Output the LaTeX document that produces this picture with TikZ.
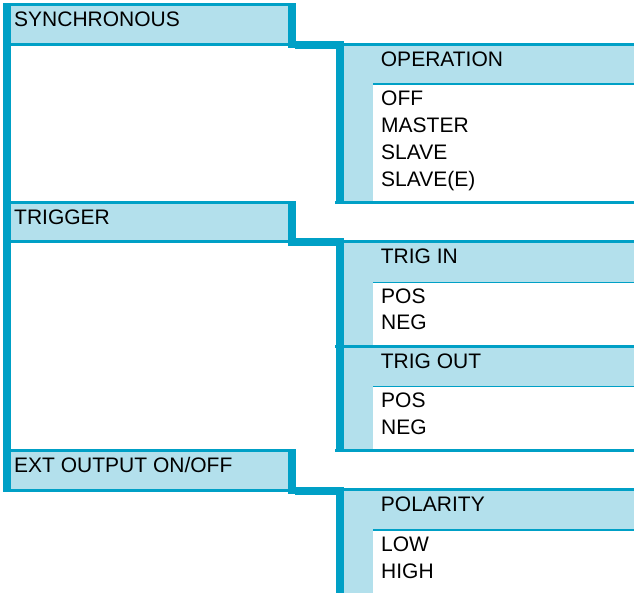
\documentclass[tikz,border=0pt]{standalone}
\usepackage{fontspec}
\setmainfont{Liberation Sans}
\definecolor{dk}{HTML}{00A0C6}
\definecolor{lt}{HTML}{B3E0EC}
\tikzset{
  lbl/.style={inner sep=0pt, anchor=base west, font=\fontsize{21}{26}\selectfont, text=black},
  dkfill/.style={fill=dk, draw=none},
  ltfill/.style={fill=lt, draw=none}
}
\begin{document}
\begin{tikzpicture}[x=1pt,y=-1pt]
\useasboundingbox (0,0) rectangle (634,593);
% ---------- left column ----------
\fill[dk] (2.7,3.3) rectangle (10.7,490.7);
\foreach \T in {3.3,201,449.3}{
  \fill[lt] (10.7,\T) rectangle (288,\T+42.4);
  \fill[dk] (10.7,\T) rectangle (288,\T+2.7);
  \fill[dk] (2.7,\T+39.4) rectangle (288,\T+42.4);
  \fill[dk] (288,\T) rectangle (296,\T+45);
  \fill[dk] (295,\T+37.4) rectangle (335.5,\T+45.5);
}
\node[lbl] (sync) at (14,26.6) {SYNCHRONOUS};
\node[lbl] (trig) at (14,224.3) {TRIGGER};
\node[lbl] (ext) at (14,472.6) {EXT OUTPUT ON/OFF};
% ---------- right block 1 ----------
\fill[lt] (344,46) rectangle (634,83.3);
\fill[lt] (344,83.3) rectangle (372.7,201);
\fill[dk] (372.7,83.3) rectangle (634,84.6);
\fill[dk] (335.5,43.3) rectangle (634,46);
\fill[dk] (335,201) rectangle (634,203.7);
\fill[dk] (335.5,40.7) rectangle (344,203.5);
\node[lbl] (op) at (380.7,66.7) {OPERATION};
\node[lbl] (off) at (381,106) {OFF};
\node[lbl] (master) at (381,132.8) {MASTER};
\node[lbl] (slave) at (381,159.6) {SLAVE};
\node[lbl] (slavee) at (381,186.4) {SLAVE(E)};
% ---------- right block 2 ----------
\fill[lt] (344,242.7) rectangle (634,281.7);
\fill[lt] (344,281.7) rectangle (372.7,345);
\fill[lt] (344,347.7) rectangle (634,386);
\fill[lt] (344,386) rectangle (372.7,449.3);
\fill[dk] (372.7,281.7) rectangle (634,283);
\fill[dk] (372.7,386) rectangle (634,387.3);
\fill[dk] (335.5,240) rectangle (634,242.7);
\fill[dk] (335,345) rectangle (634,347.7);
\fill[dk] (335,449.3) rectangle (634,452);
\fill[dk] (335.5,238.4) rectangle (344,451);
\node[lbl] (tin) at (380.7,263.4) {TRIG IN};
\node[lbl] (pos1) at (381,303.2) {POS};
\node[lbl] (neg1) at (381,330) {NEG};
\node[lbl] (tout) at (380.7,368) {TRIG OUT};
\node[lbl] (pos2) at (381,407.4) {POS};
\node[lbl] (neg2) at (381,434.2) {NEG};
% ---------- right block 3 ----------
\fill[lt] (344,491) rectangle (634,529.3);
\fill[lt] (344,529.3) rectangle (372.7,593);
\fill[dk] (372.7,529.3) rectangle (634,530.7);
\fill[dk] (335.5,488.3) rectangle (634,491);
\fill[dk] (335.5,486.7) rectangle (344,593);
\node[lbl] (pol) at (380.7,511.7) {POLARITY};
\node[lbl] (low) at (381,551.7) {LOW};
\node[lbl] (high) at (381,578.5) {HIGH};
\end{tikzpicture}
\end{document}
